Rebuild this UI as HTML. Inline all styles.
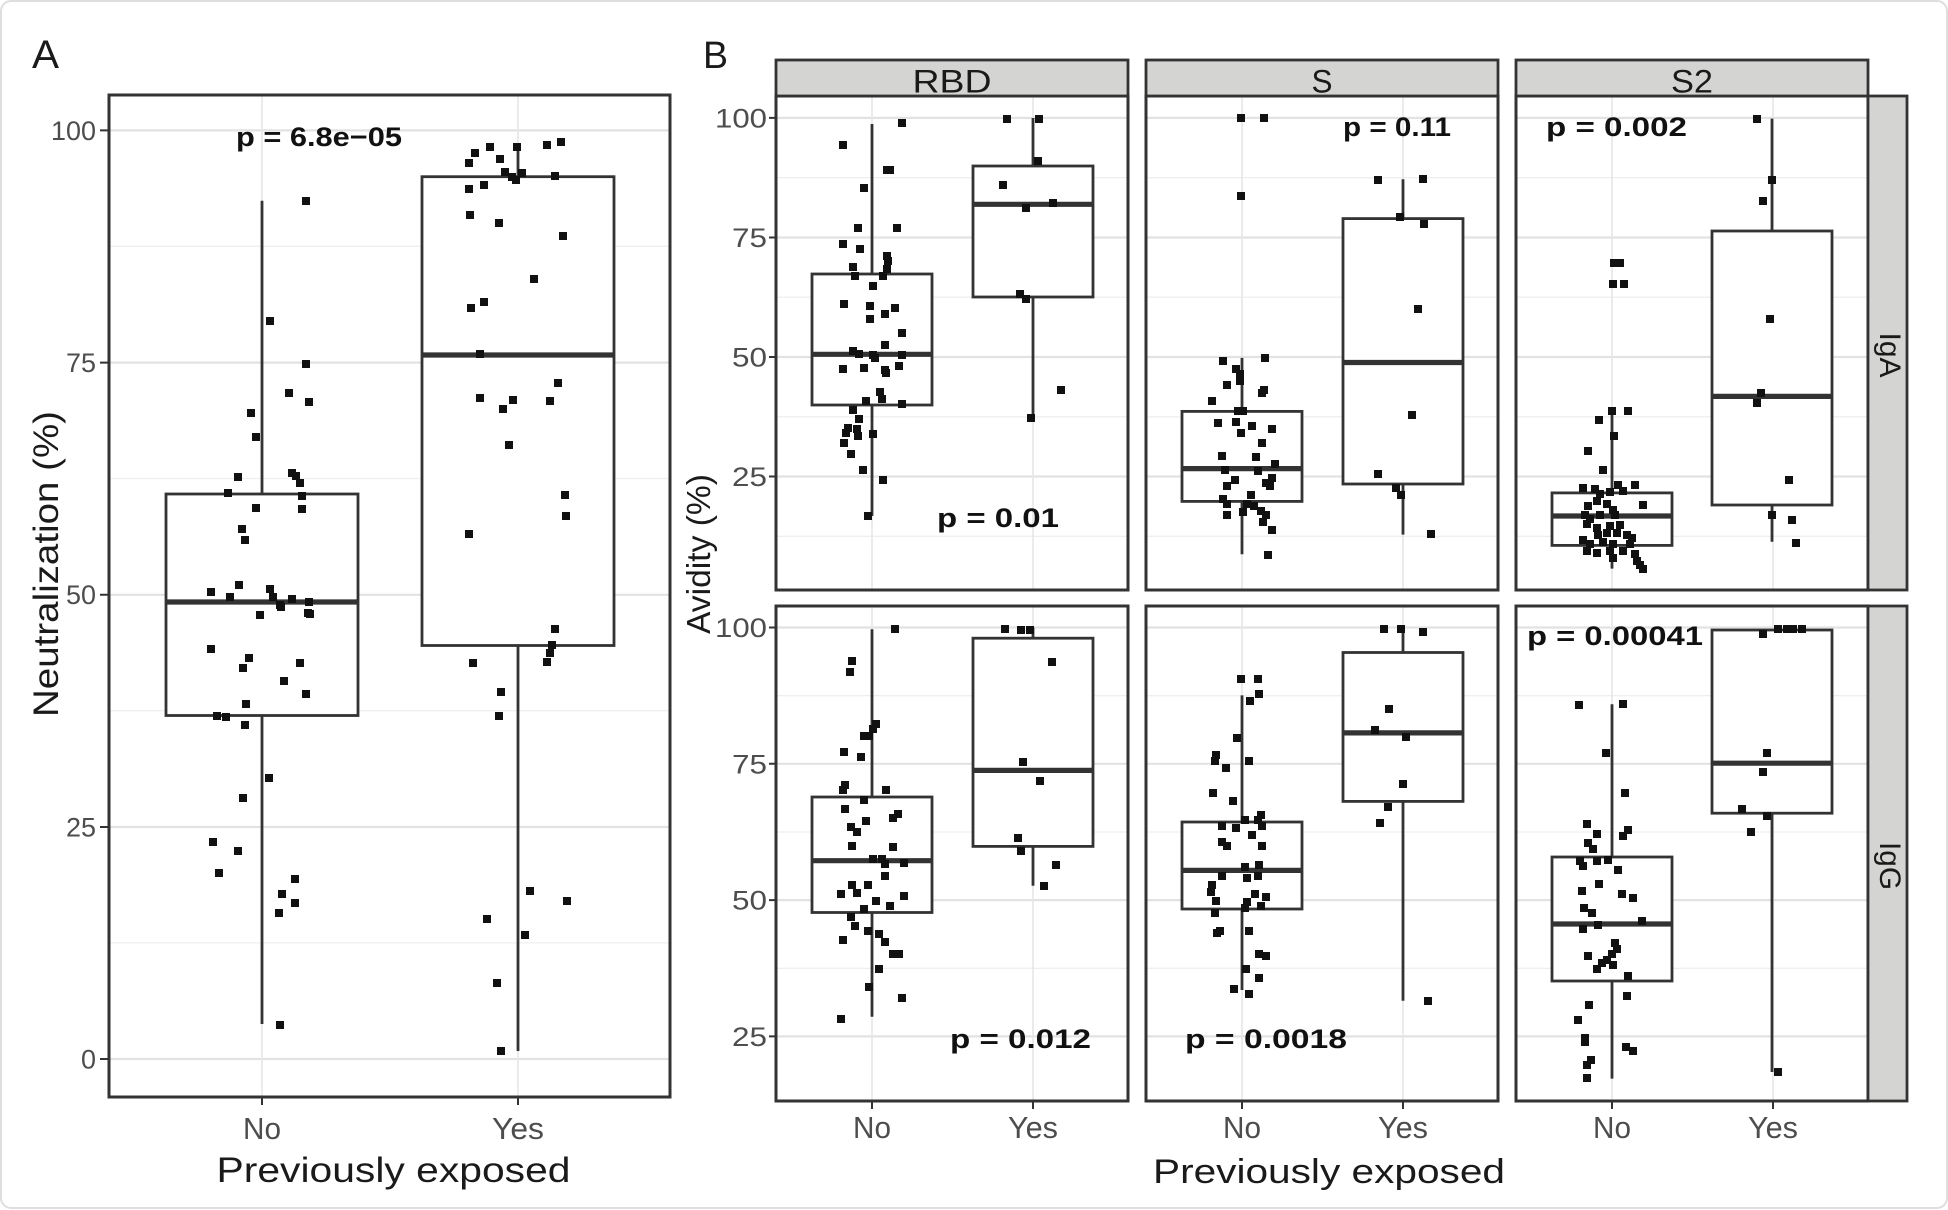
<!DOCTYPE html>
<html><head><meta charset="utf-8"><style>
html,body{margin:0;padding:0;background:#fff;}
svg{display:block;}
text{font-family:"Liberation Sans",Arial,sans-serif;}
.mj{stroke:#e2e2e2;stroke-width:2.2;fill:none}
.mn{stroke:#efefef;stroke-width:1.3;fill:none}
.vg{stroke:#e6e6e6;stroke-width:1.6;fill:none}
.bx{fill:#fff;stroke:#333;stroke-width:2.8}
.md{stroke:#333;stroke-width:5.2;fill:none}
.wk{stroke:#333;stroke-width:2.8;fill:none}
.pb{fill:none;stroke:#333;stroke-width:3}
.pt{fill:#111}
.tk{stroke:#333;stroke-width:2;fill:none}
.tl{fill:#4d4d4d;font-size:27px}
.xl{fill:#4d4d4d;font-size:31px}
.pv{fill:#111;font-size:27px;font-weight:bold}
.st{fill:#1a1a1a;font-size:32px}
</style></head><body>
<svg width="1948" height="1210" viewBox="0 0 1948 1210" xmlns="http://www.w3.org/2000/svg">
<rect x="0" y="0" width="1948" height="1210" fill="#fff"/>
<rect x="1" y="1" width="1946" height="1207" rx="10" fill="none" stroke="#dedede" stroke-width="2"/>

<!-- ================= PANEL A ================= -->
<text x="32" y="68" font-size="40" fill="#1a1a1a" textLength="27" lengthAdjust="spacingAndGlyphs">A</text>
<rect x="109" y="95" width="561" height="1002" fill="#fff"/>
<path class="mn" d="M109 246.3h561M109 478.5h561M109 710.7h561M109 942.9h561"/>
<path class="mj" d="M109 130.4h561M109 362.6h561M109 594.8h561M109 827h561M109 1059h561"/>
<path class="vg" d="M262 95v1002M518 95v1002"/>
<path class="wk" d="M262 200.8V494M262 715.5V1024M518 144V176.7M518 645.5V1051"/>
<rect class="bx" x="166" y="494" width="192" height="221.5"/>
<path class="md" d="M166 602h192"/>
<rect class="bx" x="422" y="176.7" width="192" height="468.8"/>
<path class="md" d="M422 355h192"/>
<path class="pt" d="M306 201m-4-4h8v8h-8zM270 321m-4-4h8v8h-8zM306 364m-4-4h8v8h-8zM289 393m-4-4h8v8h-8zM309 402m-4-4h8v8h-8zM251 413m-4-4h8v8h-8zM256 437m-4-4h8v8h-8zM238 477m-4-4h8v8h-8zM292 473m-4-4h8v8h-8zM296 476m-4-4h8v8h-8zM300 483m-4-4h8v8h-8zM228 493m-4-4h8v8h-8zM302 496m-4-4h8v8h-8zM256 508m-4-4h8v8h-8zM302 509m-4-4h8v8h-8zM242 529m-4-4h8v8h-8zM245 540m-4-4h8v8h-8zM211 592m-4-4h8v8h-8zM239 585m-4-4h8v8h-8zM230 597m-4-4h8v8h-8zM270 589m-4-4h8v8h-8zM273 597m-4-4h8v8h-8zM280 605m-4-4h8v8h-8zM292 599m-4-4h8v8h-8zM309 602m-4-4h8v8h-8zM308 613m-4-4h8v8h-8zM260 615m-4-4h8v8h-8zM281 607m-4-4h8v8h-8zM310 614m-4-4h8v8h-8zM211 649m-4-4h8v8h-8zM249 658m-4-4h8v8h-8zM243 668m-4-4h8v8h-8zM300 663m-4-4h8v8h-8zM284 681m-4-4h8v8h-8zM306 694m-4-4h8v8h-8zM246 704m-4-4h8v8h-8zM217 716m-4-4h8v8h-8zM226 717m-4-4h8v8h-8zM245 725m-4-4h8v8h-8zM269 778m-4-4h8v8h-8zM243 798m-4-4h8v8h-8zM213 842m-4-4h8v8h-8zM238 851m-4-4h8v8h-8zM219 873m-4-4h8v8h-8zM295 879m-4-4h8v8h-8zM282 894m-4-4h8v8h-8zM295 903m-4-4h8v8h-8zM279 913m-4-4h8v8h-8zM280 1025m-4-4h8v8h-8z
M475 153m-4-4h8v8h-8zM469 163m-4-4h8v8h-8zM490 147m-4-4h8v8h-8zM500 159m-4-4h8v8h-8zM517 147m-4-4h8v8h-8zM547 145m-4-4h8v8h-8zM561 142m-4-4h8v8h-8zM505 172m-4-4h8v8h-8zM512 177m-4-4h8v8h-8zM516 180m-4-4h8v8h-8zM522 173m-4-4h8v8h-8zM555 176m-4-4h8v8h-8zM469 189m-4-4h8v8h-8zM484 185m-4-4h8v8h-8zM470 215m-4-4h8v8h-8zM499 223m-4-4h8v8h-8zM563 236m-4-4h8v8h-8zM534 279m-4-4h8v8h-8zM471 308m-4-4h8v8h-8zM484 302m-4-4h8v8h-8zM480 354m-4-4h8v8h-8zM558 383m-4-4h8v8h-8zM480 398m-4-4h8v8h-8zM513 400m-4-4h8v8h-8zM550 401m-4-4h8v8h-8zM503 409m-4-4h8v8h-8zM509 445m-4-4h8v8h-8zM565 495m-4-4h8v8h-8zM566 516m-4-4h8v8h-8zM469 534m-4-4h8v8h-8zM555 629m-4-4h8v8h-8zM552 645m-4-4h8v8h-8zM550 653m-4-4h8v8h-8zM547 662m-4-4h8v8h-8zM473 663m-4-4h8v8h-8zM501 692m-4-4h8v8h-8zM499 716m-4-4h8v8h-8zM530 891m-4-4h8v8h-8zM567 901m-4-4h8v8h-8zM487 919m-4-4h8v8h-8zM525 935m-4-4h8v8h-8zM497 983m-4-4h8v8h-8zM501 1051m-4-4h8v8h-8z"/>
<rect class="pb" x="109" y="95" width="561" height="1002"/>
<path class="tk" d="M100 130.4h9M100 362.6h9M100 594.8h9M100 827h9M100 1059h9M262 1097v8M518 1097v8"/>
<text class="tl" x="96" y="140" text-anchor="end" textLength="45" lengthAdjust="spacingAndGlyphs">100</text>
<text class="tl" x="96" y="372" text-anchor="end" textLength="30" lengthAdjust="spacingAndGlyphs">75</text>
<text class="tl" x="96" y="604" text-anchor="end" textLength="30" lengthAdjust="spacingAndGlyphs">50</text>
<text class="tl" x="96" y="836.5" text-anchor="end" textLength="30" lengthAdjust="spacingAndGlyphs">25</text>
<text class="tl" x="96" y="1068.5" text-anchor="end" textLength="15" lengthAdjust="spacingAndGlyphs">0</text>
<text class="xl" x="262" y="1139" text-anchor="middle" textLength="38" lengthAdjust="spacingAndGlyphs">No</text>
<text class="xl" x="518" y="1139" text-anchor="middle" textLength="52" lengthAdjust="spacingAndGlyphs">Yes</text>
<text x="393.5" y="1182" font-size="35" fill="#1a1a1a" text-anchor="middle" textLength="354" lengthAdjust="spacingAndGlyphs">Previously exposed</text>
<text transform="translate(58,564) rotate(-90)" x="0" y="0" font-size="35" fill="#1a1a1a" text-anchor="middle" textLength="306" lengthAdjust="spacingAndGlyphs">Neutralization (%)</text>
<text class="pv" x="236" y="146" textLength="166" lengthAdjust="spacingAndGlyphs">p = 6.8e−05</text>

<!-- ================= PANEL B ================= -->
<text x="703" y="68" font-size="38" fill="#1a1a1a" textLength="25" lengthAdjust="spacingAndGlyphs">B</text>
<rect x="776" y="96" width="352" height="494" fill="#fff"/><rect x="1146" y="96" width="352" height="494" fill="#fff"/><rect x="1516" y="96" width="352" height="494" fill="#fff"/>
<rect x="776" y="606" width="352" height="495" fill="#fff"/><rect x="1146" y="606" width="352" height="495" fill="#fff"/><rect x="1516" y="606" width="352" height="495" fill="#fff"/>
<path class="mn" d="M776 177.7h352M776 297.2h352M776 416.8h352M776 536.3h352M1146 177.7h352M1146 297.2h352M1146 416.8h352M1146 536.3h352M1516 177.7h352M1516 297.2h352M1516 416.8h352M1516 536.3h352
M776 695.7h352M776 832h352M776 968.3h352M1146 695.7h352M1146 832h352M1146 968.3h352M1516 695.7h352M1516 832h352M1516 968.3h352"/>
<path class="mj" d="M776 117.9h352M776 237.5h352M776 357h352M776 476.5h352M1146 117.9h352M1146 237.5h352M1146 357h352M1146 476.5h352M1516 117.9h352M1516 237.5h352M1516 357h352M1516 476.5h352
M776 627.5h352M776 763.8h352M776 900.1h352M776 1036.4h352M1146 627.5h352M1146 763.8h352M1146 900.1h352M1146 1036.4h352M1516 627.5h352M1516 763.8h352M1516 900.1h352M1516 1036.4h352"/>
<path class="vg" d="M872 96v494M1033 96v494M1242 96v494M1403 96v494M1612 96v494M1773 96v494M872 606v495M1033 606v495M1242 606v495M1403 606v495M1612 606v495M1773 606v495"/>

<!-- whiskers -->
<path class="wk" d="M872 124V274M872 405V516M1033 118V166M1033 297V416.8M1242 357.9V411.4M1242 501.4V554.3M1403 179.3V218.6M1403 484V534.6M1612 413V492.9M1612 545.4V568.6M1772 118.6V231M1772 505V541.8
M872 629.3V797M872 912.5V1016.8M1033 627.5V638.2M1033 846.4V885.7M1242 695.4V822M1242 909V990M1403 629.3V652.5M1403 801.4V1000.7M1612 704.3V857M1612 981V1078.6M1772 813.2V1072"/>
<!-- boxes row 1 -->
<rect class="bx" x="812" y="274" width="120" height="131"/>
<rect class="bx" x="973" y="166" width="120" height="131"/>
<rect class="bx" x="1182" y="411.4" width="120" height="90"/>
<rect class="bx" x="1343" y="218.6" width="120" height="265.4"/>
<rect class="bx" x="1552" y="492.9" width="120" height="52.5"/>
<rect class="bx" x="1712" y="231" width="120" height="274"/>
<!-- boxes row 2 -->
<rect class="bx" x="812" y="797" width="120" height="115.5"/>
<rect class="bx" x="973" y="638.2" width="120" height="208.2"/>
<rect class="bx" x="1182" y="822" width="120" height="87"/>
<rect class="bx" x="1343" y="652.5" width="120" height="148.9"/>
<rect class="bx" x="1552" y="857" width="120" height="124"/>
<rect class="bx" x="1712" y="630" width="120" height="183.2"/>
<path class="md" d="M812 354.3h120M973 204.3h120M1182 468.6h120M1343 362.5h120M1552 516h120M1712 396.4h120M812 860.7h120M973 770.4h120M1182 870.4h120M1343 732.9h120M1552 924h120M1712 763.2h120"/>

<!-- points -->
<path class="pt" d="M843 145m-4-4h8v8h-8zM902 123m-4-4h8v8h-8zM887 170m-4-4h8v8h-8zM890 170m-4-4h8v8h-8zM864 188m-4-4h8v8h-8zM858 228m-4-4h8v8h-8zM897 228m-4-4h8v8h-8zM843 244m-4-4h8v8h-8zM860 249m-4-4h8v8h-8zM887 256m-4-4h8v8h-8zM888 261m-4-4h8v8h-8zM887 269m-4-4h8v8h-8zM853 267m-4-4h8v8h-8zM855 276m-4-4h8v8h-8zM883 276m-4-4h8v8h-8zM873 286m-4-4h8v8h-8zM844 304m-4-4h8v8h-8zM870 306m-4-4h8v8h-8zM870 319m-4-4h8v8h-8zM895 308m-4-4h8v8h-8zM885 314m-4-4h8v8h-8zM902 333m-4-4h8v8h-8zM885 345m-4-4h8v8h-8zM853 351m-4-4h8v8h-8zM859 354m-4-4h8v8h-8zM873 355m-4-4h8v8h-8zM875 358m-4-4h8v8h-8zM902 355m-4-4h8v8h-8zM843 369m-4-4h8v8h-8zM864 368m-4-4h8v8h-8zM885 370m-4-4h8v8h-8zM886 373m-4-4h8v8h-8zM899 366m-4-4h8v8h-8zM880 392m-4-4h8v8h-8zM882 399m-4-4h8v8h-8zM866 401m-4-4h8v8h-8zM902 404m-4-4h8v8h-8zM853 410m-4-4h8v8h-8zM859 419m-4-4h8v8h-8zM848 428m-4-4h8v8h-8zM857 429m-4-4h8v8h-8zM846 433m-4-4h8v8h-8zM873 434m-4-4h8v8h-8zM858 436m-4-4h8v8h-8zM844 443m-4-4h8v8h-8zM851 454m-4-4h8v8h-8zM863 470m-4-4h8v8h-8zM883 480m-4-4h8v8h-8zM868 516m-4-4h8v8h-8z
M1007 119m-4-4h8v8h-8zM1039 119m-4-4h8v8h-8zM1038 161m-4-4h8v8h-8zM1003 185m-4-4h8v8h-8zM1026 208m-4-4h8v8h-8zM1053 203m-4-4h8v8h-8zM1020 294m-4-4h8v8h-8zM1026 299m-4-4h8v8h-8zM1061 390m-4-4h8v8h-8zM1031 418m-4-4h8v8h-8z
M1241 118m-4-4h8v8h-8zM1264 118m-4-4h8v8h-8zM1241 196m-4-4h8v8h-8zM1223 361m-4-4h8v8h-8zM1265 358m-4-4h8v8h-8zM1236 369m-4-4h8v8h-8zM1240 374m-4-4h8v8h-8zM1240 381m-4-4h8v8h-8zM1227 385m-4-4h8v8h-8zM1264 390m-4-4h8v8h-8zM1262 393m-4-4h8v8h-8zM1212 401m-4-4h8v8h-8zM1238 411m-4-4h8v8h-8zM1243 411m-4-4h8v8h-8zM1218 423m-4-4h8v8h-8zM1236 422m-4-4h8v8h-8zM1241 433m-4-4h8v8h-8zM1252 426m-4-4h8v8h-8zM1272 429m-4-4h8v8h-8zM1262 443m-4-4h8v8h-8zM1222 456m-4-4h8v8h-8zM1256 457m-4-4h8v8h-8zM1275 464m-4-4h8v8h-8zM1225 470m-4-4h8v8h-8zM1258 471m-4-4h8v8h-8zM1272 478m-4-4h8v8h-8zM1270 486m-4-4h8v8h-8zM1235 480m-4-4h8v8h-8zM1227 486m-4-4h8v8h-8zM1266 483m-4-4h8v8h-8zM1251 495m-4-4h8v8h-8zM1223 499m-4-4h8v8h-8zM1227 504m-4-4h8v8h-8zM1247 504m-4-4h8v8h-8zM1254 506m-4-4h8v8h-8zM1261 511m-4-4h8v8h-8zM1227 515m-4-4h8v8h-8zM1243 512m-4-4h8v8h-8zM1266 515m-4-4h8v8h-8zM1263 522m-4-4h8v8h-8zM1272 530m-4-4h8v8h-8zM1268 555m-4-4h8v8h-8z
M1378 180m-4-4h8v8h-8zM1423 179m-4-4h8v8h-8zM1400 217m-4-4h8v8h-8zM1424 224m-4-4h8v8h-8zM1418 309m-4-4h8v8h-8zM1412 415m-4-4h8v8h-8zM1378 474m-4-4h8v8h-8zM1396 488m-4-4h8v8h-8zM1401 495m-4-4h8v8h-8zM1431 534m-4-4h8v8h-8z
M1614 263m-4-4h8v8h-8zM1620 263m-4-4h8v8h-8zM1613 284m-4-4h8v8h-8zM1624 284m-4-4h8v8h-8zM1612 411m-4-4h8v8h-8zM1628 411m-4-4h8v8h-8zM1599 420m-4-4h8v8h-8zM1614 436m-4-4h8v8h-8zM1588 451m-4-4h8v8h-8zM1603 470m-4-4h8v8h-8zM1618 485m-4-4h8v8h-8zM1635 485m-4-4h8v8h-8zM1583 488m-4-4h8v8h-8zM1595 489m-4-4h8v8h-8zM1600 494m-4-4h8v8h-8zM1610 492m-4-4h8v8h-8zM1623 491m-4-4h8v8h-8zM1643 505m-4-4h8v8h-8zM1588 506m-4-4h8v8h-8zM1597 501m-4-4h8v8h-8zM1607 504m-4-4h8v8h-8zM1613 510m-4-4h8v8h-8zM1585 515m-4-4h8v8h-8zM1590 519m-4-4h8v8h-8zM1600 515m-4-4h8v8h-8zM1615 515m-4-4h8v8h-8zM1587 524m-4-4h8v8h-8zM1597 528m-4-4h8v8h-8zM1610 526m-4-4h8v8h-8zM1620 525m-4-4h8v8h-8zM1598 535m-4-4h8v8h-8zM1607 533m-4-4h8v8h-8zM1617 533m-4-4h8v8h-8zM1627 535m-4-4h8v8h-8zM1632 538m-4-4h8v8h-8zM1583 540m-4-4h8v8h-8zM1590 544m-4-4h8v8h-8zM1603 542m-4-4h8v8h-8zM1613 544m-4-4h8v8h-8zM1630 544m-4-4h8v8h-8zM1587 551m-4-4h8v8h-8zM1597 553m-4-4h8v8h-8zM1610 551m-4-4h8v8h-8zM1623 551m-4-4h8v8h-8zM1635 554m-4-4h8v8h-8zM1613 558m-4-4h8v8h-8zM1637 561m-4-4h8v8h-8zM1640 565m-4-4h8v8h-8zM1643 569m-4-4h8v8h-8z
M1757 119m-4-4h8v8h-8zM1772 180m-4-4h8v8h-8zM1763 201m-4-4h8v8h-8zM1770 319m-4-4h8v8h-8zM1761 393m-4-4h8v8h-8zM1757 403m-4-4h8v8h-8zM1789 480m-4-4h8v8h-8zM1772 515m-4-4h8v8h-8zM1792 520m-4-4h8v8h-8zM1796 543m-4-4h8v8h-8z
M895 629m-4-4h8v8h-8zM852 661m-4-4h8v8h-8zM850 672m-4-4h8v8h-8zM876 724m-4-4h8v8h-8zM873 729m-4-4h8v8h-8zM869 736m-4-4h8v8h-8zM864 736m-4-4h8v8h-8zM844 752m-4-4h8v8h-8zM861 757m-4-4h8v8h-8zM845 785m-4-4h8v8h-8zM843 790m-4-4h8v8h-8zM886 790m-4-4h8v8h-8zM864 800m-4-4h8v8h-8zM845 809m-4-4h8v8h-8zM898 814m-4-4h8v8h-8zM893 818m-4-4h8v8h-8zM866 821m-4-4h8v8h-8zM851 827m-4-4h8v8h-8zM857 832m-4-4h8v8h-8zM852 846m-4-4h8v8h-8zM893 847m-4-4h8v8h-8zM873 859m-4-4h8v8h-8zM882 859m-4-4h8v8h-8zM885 864m-4-4h8v8h-8zM904 863m-4-4h8v8h-8zM885 876m-4-4h8v8h-8zM841 894m-4-4h8v8h-8zM852 885m-4-4h8v8h-8zM857 893m-4-4h8v8h-8zM868 885m-4-4h8v8h-8zM904 896m-4-4h8v8h-8zM876 901m-4-4h8v8h-8zM890 906m-4-4h8v8h-8zM864 909m-4-4h8v8h-8zM851 917m-4-4h8v8h-8zM855 926m-4-4h8v8h-8zM868 931m-4-4h8v8h-8zM879 934m-4-4h8v8h-8zM885 942m-4-4h8v8h-8zM843 940m-4-4h8v8h-8zM893 954m-4-4h8v8h-8zM899 954m-4-4h8v8h-8zM879 969m-4-4h8v8h-8zM869 987m-4-4h8v8h-8zM902 998m-4-4h8v8h-8zM841 1019m-4-4h8v8h-8z
M1005 629m-4-4h8v8h-8zM1021 630m-4-4h8v8h-8zM1030 630m-4-4h8v8h-8zM1052 662m-4-4h8v8h-8zM1023 762m-4-4h8v8h-8zM1040 781m-4-4h8v8h-8zM1018 838m-4-4h8v8h-8zM1021 851m-4-4h8v8h-8zM1056 865m-4-4h8v8h-8zM1044 886m-4-4h8v8h-8z
M1241 679m-4-4h8v8h-8zM1258 679m-4-4h8v8h-8zM1259 694m-4-4h8v8h-8zM1250 701m-4-4h8v8h-8zM1237 738m-4-4h8v8h-8zM1216 755m-4-4h8v8h-8zM1215 761m-4-4h8v8h-8zM1226 768m-4-4h8v8h-8zM1249 761m-4-4h8v8h-8zM1213 793m-4-4h8v8h-8zM1233 801m-4-4h8v8h-8zM1245 820m-4-4h8v8h-8zM1261 815m-4-4h8v8h-8zM1262 826m-4-4h8v8h-8zM1258 820m-4-4h8v8h-8zM1222 826m-4-4h8v8h-8zM1236 828m-4-4h8v8h-8zM1252 835m-4-4h8v8h-8zM1222 842m-4-4h8v8h-8zM1227 846m-4-4h8v8h-8zM1262 846m-4-4h8v8h-8zM1245 867m-4-4h8v8h-8zM1259 865m-4-4h8v8h-8zM1258 876m-4-4h8v8h-8zM1247 878m-4-4h8v8h-8zM1222 876m-4-4h8v8h-8zM1212 885m-4-4h8v8h-8zM1211 892m-4-4h8v8h-8zM1216 901m-4-4h8v8h-8zM1255 894m-4-4h8v8h-8zM1266 897m-4-4h8v8h-8zM1261 906m-4-4h8v8h-8zM1247 902m-4-4h8v8h-8zM1245 908m-4-4h8v8h-8zM1215 913m-4-4h8v8h-8zM1217 933m-4-4h8v8h-8zM1220 931m-4-4h8v8h-8zM1249 931m-4-4h8v8h-8zM1259 954m-4-4h8v8h-8zM1266 956m-4-4h8v8h-8zM1246 969m-4-4h8v8h-8zM1259 978m-4-4h8v8h-8zM1234 989m-4-4h8v8h-8zM1249 994m-4-4h8v8h-8z
M1384 629m-4-4h8v8h-8zM1401 629m-4-4h8v8h-8zM1423 632m-4-4h8v8h-8zM1389 709m-4-4h8v8h-8zM1375 730m-4-4h8v8h-8zM1406 737m-4-4h8v8h-8zM1403 784m-4-4h8v8h-8zM1388 807m-4-4h8v8h-8zM1380 823m-4-4h8v8h-8zM1428 1001m-4-4h8v8h-8z
M1579 705m-4-4h8v8h-8zM1623 704m-4-4h8v8h-8zM1606 753m-4-4h8v8h-8zM1625 793m-4-4h8v8h-8zM1587 824m-4-4h8v8h-8zM1597 834m-4-4h8v8h-8zM1628 830m-4-4h8v8h-8zM1623 836m-4-4h8v8h-8zM1588 843m-4-4h8v8h-8zM1593 849m-4-4h8v8h-8zM1580 861m-4-4h8v8h-8zM1583 866m-4-4h8v8h-8zM1597 861m-4-4h8v8h-8zM1608 860m-4-4h8v8h-8zM1618 870m-4-4h8v8h-8zM1582 891m-4-4h8v8h-8zM1599 884m-4-4h8v8h-8zM1622 894m-4-4h8v8h-8zM1633 898m-4-4h8v8h-8zM1584 908m-4-4h8v8h-8zM1592 913m-4-4h8v8h-8zM1642 921m-4-4h8v8h-8zM1583 929m-4-4h8v8h-8zM1598 925m-4-4h8v8h-8zM1615 943m-4-4h8v8h-8zM1617 949m-4-4h8v8h-8zM1612 954m-4-4h8v8h-8zM1607 960m-4-4h8v8h-8zM1602 963m-4-4h8v8h-8zM1613 965m-4-4h8v8h-8zM1588 956m-4-4h8v8h-8zM1597 969m-4-4h8v8h-8zM1628 976m-4-4h8v8h-8zM1627 996m-4-4h8v8h-8zM1589 1005m-4-4h8v8h-8zM1578 1020m-4-4h8v8h-8zM1585 1038m-4-4h8v8h-8zM1585 1042m-4-4h8v8h-8zM1626 1047m-4-4h8v8h-8zM1633 1051m-4-4h8v8h-8zM1591 1060m-4-4h8v8h-8zM1587 1065m-4-4h8v8h-8zM1587 1078m-4-4h8v8h-8z
M1763 634m-4-4h8v8h-8zM1778 629m-4-4h8v8h-8zM1787 629m-4-4h8v8h-8zM1793 629m-4-4h8v8h-8zM1802 629m-4-4h8v8h-8zM1767 753m-4-4h8v8h-8zM1763 772m-4-4h8v8h-8zM1742 809m-4-4h8v8h-8zM1767 816m-4-4h8v8h-8zM1751 832m-4-4h8v8h-8zM1778 1072m-4-4h8v8h-8z"/>

<!-- panel borders -->
<rect class="pb" x="776" y="96" width="352" height="494"/>
<rect class="pb" x="1146" y="96" width="352" height="494"/>
<rect class="pb" x="1516" y="96" width="352" height="494"/>
<rect class="pb" x="776" y="606" width="352" height="495"/>
<rect class="pb" x="1146" y="606" width="352" height="495"/>
<rect class="pb" x="1516" y="606" width="352" height="495"/>

<!-- strips -->
<rect x="776" y="60" width="352" height="36" fill="#d4d4d2" stroke="#333" stroke-width="2.8"/>
<rect x="1146" y="60" width="352" height="36" fill="#d4d4d2" stroke="#333" stroke-width="2.8"/>
<rect x="1516" y="60" width="352" height="36" fill="#d4d4d2" stroke="#333" stroke-width="2.8"/>
<rect x="1868" y="96" width="39" height="494" fill="#d4d4d2" stroke="#333" stroke-width="2.8"/>
<rect x="1868" y="606" width="39" height="495" fill="#d4d4d2" stroke="#333" stroke-width="2.8"/>
<text class="st" x="952" y="92.5" text-anchor="middle" textLength="79" lengthAdjust="spacingAndGlyphs">RBD</text>
<text class="st" x="1322" y="92.5" text-anchor="middle" textLength="21" lengthAdjust="spacingAndGlyphs">S</text>
<text class="st" x="1692" y="92.5" text-anchor="middle" textLength="42" lengthAdjust="spacingAndGlyphs">S2</text>
<text transform="translate(1880,355) rotate(90)" x="0" y="0" font-size="30" fill="#1a1a1a" text-anchor="middle" textLength="45" lengthAdjust="spacingAndGlyphs">IgA</text>
<text transform="translate(1880,866) rotate(90)" x="0" y="0" font-size="30" fill="#1a1a1a" text-anchor="middle" textLength="48" lengthAdjust="spacingAndGlyphs">IgG</text>

<!-- ticks -->
<path class="tk" d="M769 117.9h7M769 237.5h7M769 357h7M769 476.5h7M769 627.5h7M769 763.8h7M769 900.1h7M769 1036.4h7
M872 1101v8M1033 1101v8M1242 1101v8M1403 1101v8M1612 1101v8M1773 1101v8"/>
<text class="tl" x="767" y="127.4" text-anchor="end" textLength="52" lengthAdjust="spacingAndGlyphs">100</text>
<text class="tl" x="767" y="247" text-anchor="end" textLength="35" lengthAdjust="spacingAndGlyphs">75</text>
<text class="tl" x="767" y="366.5" text-anchor="end" textLength="35" lengthAdjust="spacingAndGlyphs">50</text>
<text class="tl" x="767" y="486" text-anchor="end" textLength="35" lengthAdjust="spacingAndGlyphs">25</text>
<text class="tl" x="767" y="637" text-anchor="end" textLength="52" lengthAdjust="spacingAndGlyphs">100</text>
<text class="tl" x="767" y="773.3" text-anchor="end" textLength="35" lengthAdjust="spacingAndGlyphs">75</text>
<text class="tl" x="767" y="909.6" text-anchor="end" textLength="35" lengthAdjust="spacingAndGlyphs">50</text>
<text class="tl" x="767" y="1045.9" text-anchor="end" textLength="35" lengthAdjust="spacingAndGlyphs">25</text>

<text class="xl" x="872" y="1138" text-anchor="middle" textLength="38" lengthAdjust="spacingAndGlyphs">No</text>
<text class="xl" x="1033" y="1138" text-anchor="middle" textLength="50" lengthAdjust="spacingAndGlyphs">Yes</text>
<text class="xl" x="1242" y="1138" text-anchor="middle" textLength="38" lengthAdjust="spacingAndGlyphs">No</text>
<text class="xl" x="1403" y="1138" text-anchor="middle" textLength="50" lengthAdjust="spacingAndGlyphs">Yes</text>
<text class="xl" x="1612" y="1138" text-anchor="middle" textLength="38" lengthAdjust="spacingAndGlyphs">No</text>
<text class="xl" x="1773" y="1138" text-anchor="middle" textLength="50" lengthAdjust="spacingAndGlyphs">Yes</text>

<text x="1329" y="1183" font-size="34" fill="#1a1a1a" text-anchor="middle" textLength="352" lengthAdjust="spacingAndGlyphs">Previously exposed</text>
<text transform="translate(710,554) rotate(-90)" x="0" y="0" font-size="33" fill="#1a1a1a" text-anchor="middle" textLength="160" lengthAdjust="spacingAndGlyphs">Avidity (%)</text>

<!-- p-values -->
<text class="pv" x="937" y="527" textLength="122" lengthAdjust="spacingAndGlyphs">p = 0.01</text>
<text class="pv" x="1343" y="136" textLength="108" lengthAdjust="spacingAndGlyphs">p = 0.11</text>
<text class="pv" x="1546" y="136" textLength="141" lengthAdjust="spacingAndGlyphs">p = 0.002</text>
<text class="pv" x="950" y="1048" textLength="141" lengthAdjust="spacingAndGlyphs">p = 0.012</text>
<text class="pv" x="1185" y="1048" textLength="162" lengthAdjust="spacingAndGlyphs">p = 0.0018</text>
<text class="pv" x="1527" y="645" textLength="176" lengthAdjust="spacingAndGlyphs">p = 0.00041</text>
</svg>
</body></html>
